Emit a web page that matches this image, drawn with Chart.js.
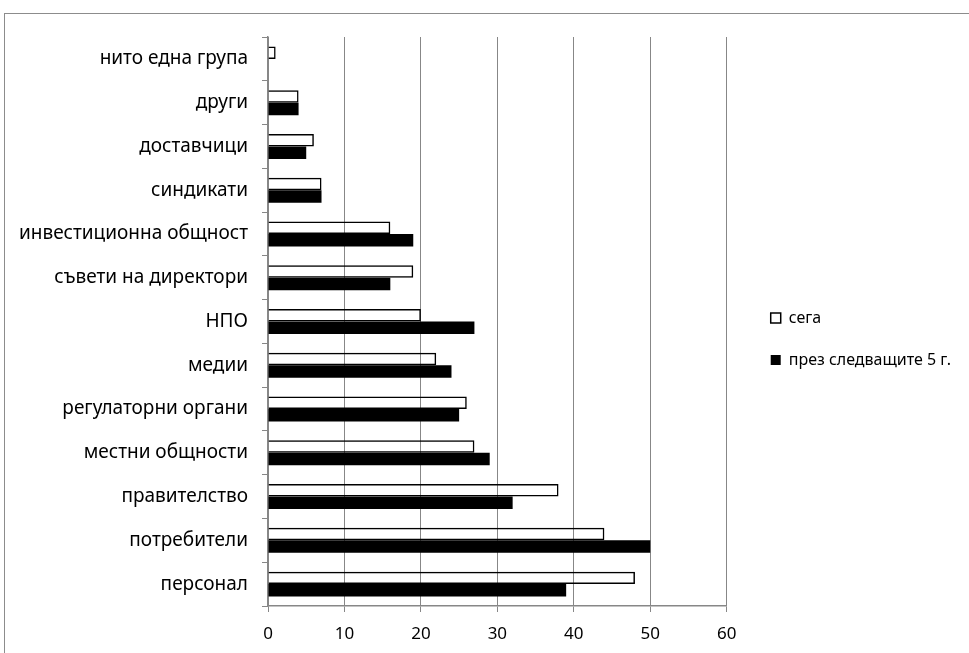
<!DOCTYPE html>
<html>
<head>
<meta charset="utf-8">
<script src="https://cdn.jsdelivr.net/npm/chart.js@4/dist/chart.umd.min.js"></script>
<style>
  html, body { margin: 0; padding: 0; background: #ffffff; }
  #wrap { position: relative; width: 969px; height: 653px; overflow: hidden; }
  #frame { position: absolute; left: 4px; top: 13px; width: 1000px; height: 700px; border: 1px solid #8c8c8c; box-sizing: border-box; }
  #c { position: absolute; left: 0; top: 0; }
</style>
</head>
<body>
<div id="wrap">
  <div id="frame"></div>
  <canvas id="c" width="969" height="653"></canvas>
</div>
<script>
const categories = [
  'нито една група',
  'други',
  'доставчици',
  'синдикати',
  'инвестиционна общност',
  'съвети на директори',
  'НПО',
  'медии',
  'регулаторни органи',
  'местни общности',
  'правителство',
  'потребители',
  'персонал'
];
const seriesNames = ['сега', 'през следващите 5 г.'];
const nowValues  = [1, 4, 6, 7, 16, 19, 20, 22, 26, 27, 38, 44, 48];
const nextValues = [0, 4, 5, 7, 19, 16, 27, 24, 25, 29, 32, 50, 39];
const xTicks = [0, 10, 20, 30, 40, 50, 60];

const FONT = "'Noto Sans', 'DejaVu Sans', sans-serif";
const GRID = '#878787';

new Chart(document.getElementById('c'), {
  type: 'bar',
  data: {
    labels: categories,
    datasets: [
      {
        label: seriesNames[0],
        data: nowValues,
        backgroundColor: 'rgba(255,255,255,0)',
        borderColor: '#000000',
        borderWidth: 1.5,
        xAxisID: 'x',
        yAxisID: 'y'
      },
      {
        label: seriesNames[1],
        data: nextValues,
        backgroundColor: '#000000',
        borderColor: '#000000',
        borderWidth: 0,
        xAxisID: 'x',
        yAxisID: 'y'
      }
    ]
  },
  options: {
    indexAxis: 'y',
    responsive: false,
    animation: false,
    devicePixelRatio: 1,
    layout: { padding: { left: 0, top: 37, bottom: 12, right: 8 } },
    datasets: { bar: { categoryPercentage: 0.57, barPercentage: 1.0 } },
    plugins: {
      legend: {
        position: 'right',
        align: 'center',
        labels: {
          boxWidth: 10,
          boxHeight: 10,
          padding: 26,
          color: '#000000',
          font: { family: FONT, size: 16 }
        }
      },
      tooltip: { enabled: false },
      title: { display: false }
    },
    scales: {
      x: {
        type: 'linear',
        position: 'bottom',
        min: 0,
        max: 60,
        afterBuildTicks: (s) => { s.ticks = xTicks.map(v => ({ value: v })); },
        afterFit: (s) => { s.height = 35; },
        grid: { color: GRID, lineWidth: 1, tickLength: 6, tickColor: GRID },
        border: { color: GRID, width: 1.5 },
        ticks: { color: '#000000', font: { family: FONT, size: 17 }, padding: 12 }
      },
      y: {
        type: 'category',
        position: 'left',
        afterFit: (s) => { s.width = 268; },
        grid: { display: true, drawOnChartArea: false, offset: true, tickLength: 6, color: GRID },
        border: { color: GRID, width: 1.5 },
        ticks: { color: '#000000', font: { family: FONT, size: 19 }, padding: 14 }
      },
      spacer: {
        type: 'linear',
        position: 'right',
        display: false,
        afterFit: (s) => { s.width = 18; }
      }
    }
  }
});
</script>
</body>
</html>
